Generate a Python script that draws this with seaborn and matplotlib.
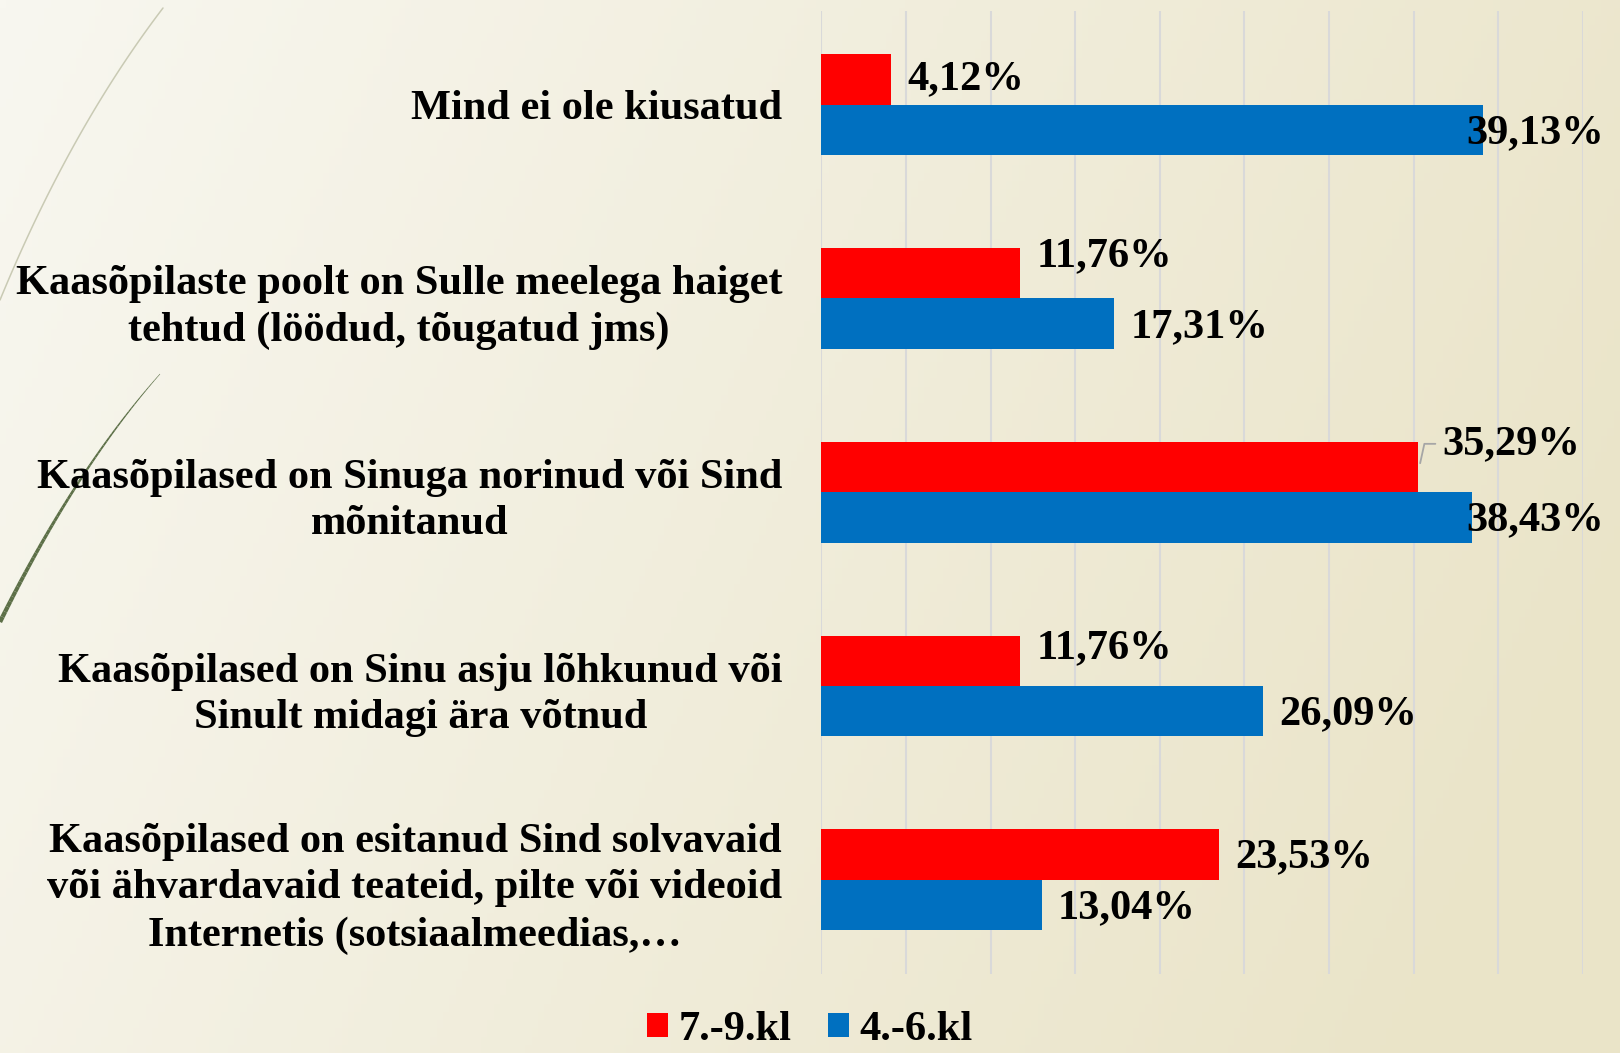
import numpy as np
import pandas as pd
import seaborn as sns
import matplotlib.pyplot as plt
from matplotlib.collections import LineCollection


# Data
categories = [
    "Mind ei ole kiusatud",
    "Kaasõpilaste poolt on Sulle meelega haiget\ntehtud (löödud, tõugatud jms)",
    "Kaasõpilased on Sinuga norinud või Sind\nmõnitanud",
    "Kaasõpilased on Sinu asju lõhkunud või\nSinult midagi ära võtnud",
    "Kaasõpilased on esitanud Sind solvavaid\nvõi ähvardavaid teateid, pilte või videoid\nInternetis (sotsiaalmeedias,…",
]
groups = ["7.-9.kl", "4.-6.kl"]
values_79 = [4.12, 11.76, 35.29, 11.76, 23.53]
values_46 = [39.13, 17.31, 38.43, 26.09, 13.04]
colors = ["#FF0000", "#0070C0"]

df = pd.DataFrame({
    "category": categories * 2,
    "group": [groups[0]] * len(categories) + [groups[1]] * len(categories),
    "value": values_79 + values_46,
})

sns.set_style("white")
plt.rcParams["font.family"] = ["Liberation Serif", "DejaVu Serif"]
plt.rcParams["font.weight"] = "bold"
plt.rcParams["text.color"] = "black"
plt.rcParams["ytick.color"] = "black"
plt.rcParams["ytick.labelcolor"] = "black"

fig = plt.figure(figsize=(16.2, 10.53), dpi=100)

# background gradient (slide look)
bg = fig.add_axes([0, 0, 1, 1], zorder=-10)
gx = np.linspace(0, 1, 256)
gy = np.linspace(0, 1, 128)
GX, GY = np.meshgrid(gx, gy)
t = np.clip(0.85 * GX + 0.25 * GY, 0, 1)
c0 = np.array([248, 247, 240]) / 255
c1 = np.array([234, 228, 200]) / 255
img = c0[None, None, :] * (1 - t[..., None]) + c1[None, None, :] * t[..., None]
bg.imshow(img, aspect="auto", extent=[0, 1, 0, 1], origin="upper")
bg.axis("off")


def curve(p0, p1, ctrl, n=60):
    s = np.linspace(0, 1, n)[:, None]
    p0, p1, ctrl = map(np.array, (p0, p1, ctrl))
    pts = (1 - s) ** 2 * p0 + 2 * (1 - s) * s * ctrl + s ** 2 * p1
    return pts[:, 0] / 1620, 1 - pts[:, 1] / 1053


# decorative strokes on the left
lx, ly = curve((163, 8), (0, 300), (70, 130))
bg.plot(lx, ly, color="#c9cab4", lw=1.1, transform=fig.transFigure)
gx_, gy_ = curve((160, 374), (0, 622), (75, 470))
segs = [[(gx_[i], gy_[i]), (gx_[i + 1], gy_[i + 1])] for i in range(len(gx_) - 1)]
lc = LineCollection(segs, colors="#5d7048", linewidths=np.linspace(0.4, 3.2, len(segs)),
                    transform=fig.transFigure)
bg.add_collection(lc)

ax = fig.add_axes([0.507, 0.075, 0.470, 0.915])
ax.set_facecolor("none")

sns.barplot(data=df, y="category", x="value", hue="group", hue_order=groups,
            palette=colors, saturation=1, width=0.52, orient="h", ax=ax,
            linewidth=0, zorder=3)

ax.set_xlim(0, 45)
ax.set_xticks(np.arange(0, 46, 5))
ax.set_xticklabels([])
ax.grid(axis="x", color="#d9d9d9", lw=1.5, zorder=0)
ax.grid(axis="y", visible=False)
for sp in ax.spines.values():
    sp.set_visible(False)
ax.set_xlabel("")
ax.set_ylabel("")
ax.set_yticks(range(len(categories)))
ax.set_yticklabels(categories, fontsize=30.5, fontweight="bold", color="black",
                   multialignment="center", linespacing=1.3)
ax.tick_params(axis="y", length=0, pad=28)
ax.tick_params(axis="x", length=0)

# data labels, nudged a bit the way the slide has them
red_nudge = [0.0, -0.09, -0.12, -0.065, 0.015]
for gi, cont in enumerate(ax.containers):
    for ci, bar in enumerate(cont):
        v = bar.get_width()
        yc = bar.get_y() + bar.get_height() / 2
        txt = f"{v:.2f}".replace(".", ",") + "%"
        dy = red_nudge[ci] if gi == 0 else 0.016
        if v > 37 and gi == 1:
            ax.text(46.25, yc + dy, txt, ha="right", va="center", fontsize=30.5,
                    fontweight="bold", color="black", zorder=5, clip_on=False)
        elif v > 30:
            # label lifted with a small leader line
            ax.plot([v + 0.1, v + 0.35, v + 1.0], [yc - 0.02, yc + dy, yc + dy],
                    color="#a6a6a6", lw=1.3, zorder=4, clip_on=False)
            ax.text(v + 1.4, yc + dy, txt, ha="left", va="center", fontsize=30.5,
                    fontweight="bold", color="black", zorder=5, clip_on=False)
        else:
            ax.text(v + 0.95, yc + dy, txt, ha="left", va="center", fontsize=30.5,
                    fontweight="bold", color="black", zorder=5, clip_on=False)

sns.move_legend(ax, "center", bbox_to_anchor=(0.5, 0.022), bbox_transform=fig.transFigure,
                ncol=2, title=None, frameon=False, fontsize=30.5,
                handlelength=0.5, handleheight=0.5, handletextpad=0.25,
                columnspacing=0.85, labelcolor="black", borderpad=0.1)

fig.savefig("out.png", dpi=100)
